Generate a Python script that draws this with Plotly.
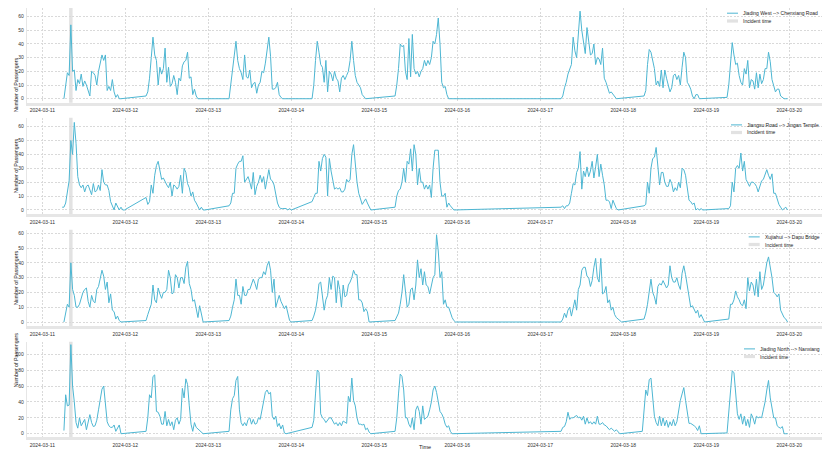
import pandas as pd
import plotly.graph_objects as go
from plotly.subplots import make_subplots

W, H = 830, 461
PAD = 8  # page body margin around the plot div
FW, FH = W - PAD, H - PAD

# passengers per 30 minutes; each day list starts at the given time
jiading_west = {
    "2024-03-11 06:15": [0, 10, 19, 17, 54, 20, 21, 6, 14, 11, 18, 9, 13, 10, 6, 2, 20, 19, 17, 10, 20, 25, 32, 28, 32, 6, 9, 6, 14, 5, 1, 3, 0, 0],
    "2024-03-12 06:00": [2, 5, 15, 30, 45, 32, 28, 10, 23, 18, 22, 37, 12, 23, 9, 11, 17, 12, 3, 15, 13, 24, 27, 28, 34, 15, 16, 3, 7, 2, 0],
    "2024-03-13 06:00": [0, 10, 20, 32, 42, 28, 22, 19, 14, 32, 16, 15, 21, 8, 11, 12, 4, 10, 12, 20, 19, 26, 35, 45, 31, 7, 7, 8, 12, 3, 1, 0],
    "2024-03-14 06:00": [0, 10, 28, 42, 34, 25, 23, 12, 28, 5, 20, 18, 13, 20, 15, 13, 5, 15, 17, 14, 17, 20, 28, 42, 28, 17, 12, 10, 8, 3, 1, 0],
    "2024-03-15 06:00": [2, 10, 22, 40, 38, 39, 20, 14, 44, 16, 47, 22, 18, 20, 16, 20, 22, 28, 24, 28, 25, 30, 42, 40, 47, 59, 40, 12, 8, 9, 3, 0],
    "2024-03-17 06:00": [0, 2, 8, 12, 18, 22, 25, 45, 35, 30, 50, 64, 50, 43, 33, 52, 42, 32, 33, 40, 25, 30, 29, 25, 37, 15, 12, 8, 4, 5, 3, 1, 0],
    "2024-03-18 06:00": [2, 6, 25, 36, 34, 27, 22, 10, 13, 9, 21, 8, 21, 15, 10, 5, 8, 17, 18, 14, 17, 10, 23, 34, 30, 12, 10, 7, 2, 0, 3, 3, 0],
    "2024-03-19 06:00": [1, 10, 28, 41, 32, 25, 26, 17, 12, 10, 22, 18, 28, 8, 14, 13, 7, 19, 8, 18, 11, 14, 22, 22, 34, 27, 14, 10, 5, 7, 7, 2, 1, 0, 0, 0],
}

jiangsu_road = {
    "2024-03-11 05:45": [2, 2, 5, 15, 21, 50, 40, 63, 48, 24, 18, 16, 18, 13, 17, 18, 14, 11, 19, 13, 14, 18, 14, 29, 20, 18, 18, 14, 6, 3, 0, 5, 2, 0, 2, 0, 0],
    "2024-03-12 06:00": [9, 4, 6, 18, 12, 25, 32, 35, 28, 22, 23, 20, 18, 16, 20, 10, 18, 17, 15, 17, 25, 12, 30, 27, 19, 16, 10, 13, 7, 5, 2, 0, 2, 0, 0],
    "2024-03-13 06:00": [3, 5, 12, 12, 30, 33, 35, 35, 39, 20, 22, 24, 20, 15, 27, 11, 17, 20, 25, 20, 24, 15, 22, 29, 22, 21, 18, 12, 5, 2, 1, 1, 1, 1, 0, 1, 0],
    "2024-03-14 06:00": [6, 9, 12, 12, 35, 28, 37, 40, 38, 10, 37, 28, 20, 15, 16, 15, 16, 13, 13, 15, 22, 20, 22, 40, 47, 30, 20, 12, 8, 4, 6, 8, 5, 2, 0],
    "2024-03-15 06:00": [2, 10, 14, 15, 20, 30, 20, 35, 33, 44, 28, 47, 40, 18, 30, 20, 20, 15, 18, 15, 18, 9, 30, 43, 43, 43, 20, 10, 10, 12, 2, 5, 3, 1, 0],
    "2024-03-17 06:00": [2, 3, 1, 3, 3, 5, 12, 19, 18, 27, 30, 42, 15, 28, 24, 31, 24, 28, 35, 23, 31, 40, 24, 33, 25, 18, 7, 7, 6, 1, 7, 4, 1, 0],
    "2024-03-18 06:00": [3, 4, 20, 12, 30, 37, 38, 45, 32, 18, 27, 27, 20, 17, 17, 22, 19, 13, 16, 14, 20, 16, 30, 29, 25, 14, 7, 6, 4, 5, 0, 1, 0, 1, 0],
    "2024-03-19 06:30": [1, 3, 20, 13, 30, 32, 30, 41, 28, 35, 22, 20, 17, 20, 20, 19, 17, 13, 18, 21, 22, 25, 29, 25, 22, 26, 12, 12, 8, 4, 2, 0, 1, 2, 0],
}

xujiahui = {
    "2024-03-11 06:15": [0, 5, 12, 10, 40, 22, 18, 10, 10, 12, 16, 20, 22, 23, 14, 10, 18, 14, 13, 22, 24, 29, 35, 31, 22, 27, 13, 19, 8, 7, 2, 4, 1, 0],
    "2024-03-12 06:00": [1, 5, 8, 12, 25, 15, 13, 23, 19, 16, 20, 20, 22, 35, 30, 19, 20, 32, 30, 23, 30, 30, 26, 37, 41, 26, 22, 14, 15, 10, 3, 11, 6, 0],
    "2024-03-13 06:00": [1, 4, 10, 15, 29, 18, 18, 12, 24, 18, 18, 22, 22, 25, 29, 26, 22, 29, 30, 30, 34, 32, 38, 41, 35, 20, 29, 10, 15, 18, 14, 11, 9, 11, 5, 1, 0],
    "2024-03-14 06:00": [1, 4, 8, 15, 26, 27, 15, 8, 15, 18, 30, 22, 31, 30, 13, 28, 22, 10, 25, 17, 18, 25, 27, 30, 35, 32, 32, 15, 15, 13, 7, 9, 7, 0],
    "2024-03-15 06:00": [1, 3, 6, 12, 20, 32, 20, 10, 12, 22, 23, 15, 25, 42, 30, 36, 25, 34, 25, 24, 19, 25, 30, 32, 59, 48, 30, 34, 12, 15, 10, 10, 6, 3, 1, 0],
    "2024-03-17 06:00": [0, 2, 6, 3, 8, 10, 4, 10, 15, 8, 22, 25, 35, 37, 37, 31, 30, 24, 28, 37, 43, 30, 27, 43, 19, 20, 24, 13, 15, 8, 10, 5, 3, 2, 1, 0],
    "2024-03-18 06:00": [2, 6, 12, 22, 29, 20, 17, 12, 24, 26, 25, 28, 25, 23, 25, 38, 30, 27, 27, 30, 25, 22, 33, 38, 32, 25, 15, 10, 11, 9, 6, 8, 3, 5, 2, 0],
    "2024-03-19 06:30": [2, 12, 12, 15, 21, 17, 15, 12, 11, 15, 9, 30, 21, 27, 25, 18, 29, 17, 34, 22, 25, 33, 40, 44, 38, 30, 20, 19, 17, 19, 8, 5, 3, 2, 0],
}

jiading_north = {
    "2024-03-11 06:15": [4, 49, 35, 36, 112, 60, 40, 14, 7, 20, 10, 15, 18, 5, 13, 24, 14, 9, 10, 17, 30, 44, 56, 60, 35, 15, 10, 8, 8, 11, 3, 8, 11, 0],
    "2024-03-12 06:00": [3, 20, 49, 45, 72, 74, 28, 27, 22, 12, 12, 28, 10, 18, 10, 15, 5, 17, 20, 12, 18, 57, 45, 69, 62, 35, 12, 3, 14, 8, 6, 5, 2, 0],
    "2024-03-13 06:00": [3, 30, 44, 48, 67, 72, 30, 14, 10, 14, 10, 18, 20, 12, 18, 12, 13, 20, 18, 30, 45, 52, 55, 50, 52, 22, 18, 22, 9, 13, 6, 11, 1, 0],
    "2024-03-14 06:00": [8, 17, 50, 80, 77, 25, 20, 18, 14, 17, 20, 20, 15, 12, 14, 10, 14, 10, 16, 15, 13, 47, 40, 70, 42, 35, 20, 12, 12, 11, 12, 5, 7, 2, 0],
    "2024-03-15 06:00": [3, 20, 50, 75, 72, 55, 20, 20, 12, 8, 20, 5, 30, 35, 28, 12, 35, 18, 20, 22, 30, 40, 55, 60, 52, 40, 28, 25, 20, 12, 8, 10, 3, 0],
    "2024-03-17 06:00": [3, 8, 9, 15, 27, 18, 20, 20, 21, 23, 20, 21, 17, 22, 12, 20, 13, 15, 12, 15, 12, 22, 12, 12, 14, 11, 10, 7, 5, 7, 5, 3, 5, 2, 0],
    "2024-03-18 05:30": [3, 25, 55, 48, 68, 70, 45, 22, 14, 10, 22, 10, 20, 10, 17, 8, 15, 10, 18, 10, 15, 30, 42, 50, 58, 42, 30, 13, 13, 12, 10, 8, 4, 10, 0],
    "2024-03-19 06:00": [1, 25, 50, 79, 77, 48, 25, 18, 25, 12, 22, 10, 18, 8, 25, 20, 12, 22, 20, 21, 20, 30, 40, 55, 67, 45, 30, 20, 20, 10, 8, 7, 9, 0, 0, 0],
}

routes = [
    "Jiading West --> Chenxiang Road",
    "Jiangsu Road --> Jingan Temple",
    "Xujiahui --> Dapu Bridge",
    "Jiading North --> Nanxiang",
]
series = [jiading_west, jiangsu_road, xujiahui, jiading_north]

incident_start = "2024-03-11 07:45"
incident_end = "2024-03-11 08:45"

y_ranges = [[-2.9, 66.3], [-2.9, 66.4], [-2.7, 62.4], [-4.5, 115.7]]
y_ticks = [list(range(0, 61, 10))] * 3 + [list(range(0, 101, 20))]

# panel top/bottom in window pixels, legend text left edge in window pixels
panels = [(8.0, 102.7), (117.7, 214.0), (229.7, 326.0), (341.7, 437.3)]
legend_left = [741, 745, 762.7, 758]

LINE = "#4db6d2"
BAND = "#e2e2e2"
FONT = "Liberation Sans, Arial, sans-serif"

# window pixel -> paper coordinate
px = lambda v: (v - PAD) / FW
py = lambda v: 1 - (v - PAD) / FH

fig = make_subplots(rows=4, cols=1)

for i, (name, days) in enumerate(zip(routes, series)):
    t, v = [], []
    for start, vals in days.items():
        t += list(pd.date_range(start, periods=len(vals), freq="30min"))
        v += vals
    fig.add_trace(go.Scatter(x=t, y=v, mode="lines", name=name,
                             line=dict(color=LINE, width=1), showlegend=False),
                  row=i + 1, col=1)
    fig.add_vrect(x0=incident_start, x1=incident_end, fillcolor=BAND, opacity=1,
                  line_width=0, layer="below", row=i + 1, col=1)

    top, bot = panels[i]
    fig.update_xaxes(row=i + 1, col=1,
                     domain=[px(26.7), px(823)],
                     range=["2024-03-10 19:29", "2024-03-20 09:45"],
                     tick0="2024-03-11", dtick=86400000, tickformat="%Y-%m-%d",
                     showgrid=True, gridcolor="#d9d9d9", gridwidth=0.7, griddash="2px,1.5px",
                     showline=True, linecolor="#e6e6e6", linewidth=2.5,
                     ticks="", ticklabelstandoff=1,
                     tickfont=dict(size=5, color="#333", family=FONT))
    fig.update_yaxes(row=i + 1, col=1,
                     domain=[py(bot), py(top)],
                     range=y_ranges[i], tickvals=y_ticks[i],
                     showgrid=True, gridcolor="#d9d9d9", gridwidth=0.7, griddash="2px,1.5px",
                     zeroline=False, showline=True, linecolor="#e6e6e6", linewidth=1,
                     ticks="", ticklabelstandoff=1,
                     tickfont=dict(size=5, color="#333", family=FONT))

    # y axis title
    fig.add_annotation(x=px(11.2), y=py((top + bot) / 2), xref="paper", yref="paper",
                       text="Number of Passengers", textangle=-90, showarrow=False,
                       font=dict(size=5.3, color="#222", family=FONT))

    # legend
    lx = legend_left[i]
    r1, r2 = max(top, 5.7) + 7.2, max(top, 5.7) + 14.8
    if i == 0:
        r1, r2 = 5.7 + 7.5, 5.7 + 15.3
    fig.add_shape(type="line", xref="paper", yref="paper",
                  x0=px(lx - 14), x1=px(lx - 3), y0=py(r1), y1=py(r1),
                  line=dict(color=LINE, width=1))
    fig.add_shape(type="rect", xref="paper", yref="paper",
                  x0=px(lx - 14), x1=px(lx - 3), y0=py(r2 + 1.6), y1=py(r2 - 1.6),
                  fillcolor=BAND, line_width=0)
    fig.add_annotation(x=px(lx), y=py(r1), xref="paper", yref="paper", text=name,
                       xanchor="left", yanchor="middle", showarrow=False,
                       font=dict(size=5, color="#222", family=FONT))
    fig.add_annotation(x=px(lx), y=py(r2), xref="paper", yref="paper", text="Incident time",
                       xanchor="left", yanchor="middle", showarrow=False,
                       font=dict(size=5, color="#222", family=FONT))

fig.add_annotation(x=px(425), y=py(451.5), xref="paper", yref="paper", text="Time",
                   showarrow=False, font=dict(size=5.5, color="#222", family=FONT))

fig.update_layout(width=FW, height=FH, margin=dict(l=0, r=0, t=0, b=0),
                  plot_bgcolor="white", paper_bgcolor="white", showlegend=False)

fig.write_html("out.html")
